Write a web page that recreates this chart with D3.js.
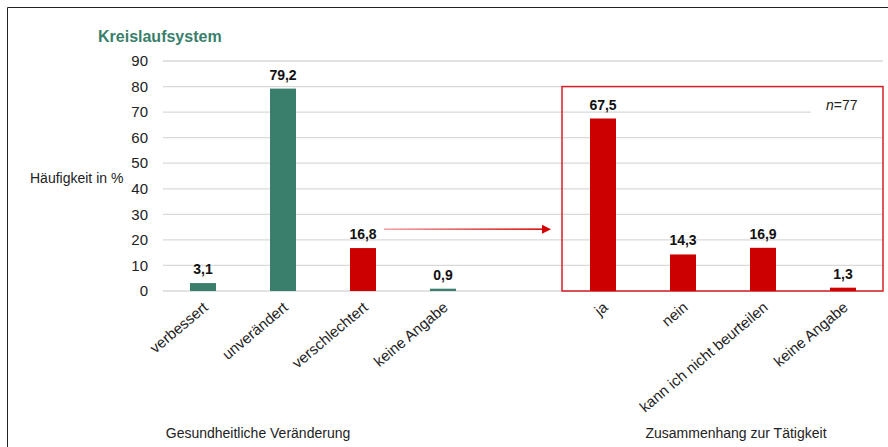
<!DOCTYPE html>
<html><head><meta charset="utf-8">
<script src="https://cdn.jsdelivr.net/npm/d3@7"></script>
<style>body{margin:0;background:#fff;} text{font-family:"Liberation Sans",Arial,sans-serif;}</style>
</head><body><svg id="c" width="888" height="447"></svg>
<script>
const title = "Kreislaufsystem";
const yTitle = "Häufigkeit in %";
const categories = ["verbessert","unverändert","verschlechtert","keine Angabe","_gap","ja","nein","kann ich nicht beurteilen","keine Angabe "];
const values = [3.1, 79.2, 16.8, 0.9, null, 67.5, 14.3, 16.9, 1.3];
const barColors = ["green","green","red","green",null,"red","red","red","red"];
const yTicks = [0,10,20,30,40,50,60,70,80,90];
const groupLabels = ["Gesundheitliche Veränderung","Zusammenhang zur Tätigkeit"];
const nLabel = "=77";

const palette = {green:"#3a7f6c", red:"#cc0000"};
const svg = d3.select("#c");
const x = d3.scaleBand().domain(categories).range([163,883]).paddingInner(0.675).paddingOuter(0.3375);
const y = d3.scaleLinear().domain([0,90]).range([291,61]);

// outer frame
svg.append("path").attr("d","M7.5,447 V7.5 H888").attr("fill","none").attr("stroke","#222").attr("stroke-width",1);

// gridlines
svg.append("g").selectAll("line").data(yTicks).join("line")
  .attr("x1",163).attr("x2",883).attr("y1",d=>y(d)).attr("y2",d=>y(d))
  .attr("stroke","#d9d9d9").attr("stroke-width",1.3);

// y tick labels
svg.append("g").selectAll("text").data(yTicks).join("text")
  .attr("x",148).attr("y",d=>y(d)).attr("dy","0.35em").attr("text-anchor","end")
  .attr("font-size",15).attr("fill","#222").text(d=>d);

// red box
const boxL = x("ja") - (x.step()-x.bandwidth())/2 - 1;
svg.append("rect").attr("x",boxL).attr("y",y(80)).attr("width",883-boxL).attr("height",y(0)-y(80))
  .attr("fill","none").attr("stroke","#d61f26").attr("stroke-width",1.5);

// n label with white background
svg.append("rect").attr("x",811).attr("y",y(70)-3).attr("width",71).attr("height",6).attr("fill","#fff");
const nt = svg.append("text").attr("x",826).attr("y",110).attr("font-size",14).attr("fill","#222");
nt.append("tspan").attr("font-style","italic").text("n");
nt.append("tspan").text(nLabel);

// bars
const data = categories.map((c,i)=>({c,v:values[i],col:barColors[i]})).filter(d=>d.v!==null);
svg.append("g").selectAll("rect").data(data).join("rect")
  .attr("x",d=>x(d.c)).attr("width",x.bandwidth())
  .attr("y",d=>y(d.v)).attr("height",d=>y(0)-y(d.v))
  .attr("fill",d=>palette[d.col]);

// value labels
svg.append("g").selectAll("text").data(data).join("text")
  .attr("x",d=>x(d.c)+x.bandwidth()/2).attr("y",d=>y(d.v)-9)
  .attr("text-anchor","middle").attr("font-size",14).attr("font-weight","bold").attr("fill","#111")
  .text(d=>d3.format(".1f")(d.v).replace(".",","));

// x labels
svg.append("g").selectAll("text").data(categories.filter(c=>c!=="_gap")).join("text")
  .attr("transform",c=>`translate(${x(c)+x.bandwidth()/2+6},${309}) rotate(-40)`)
  .attr("text-anchor","end").attr("font-size",15).attr("fill","#222").text(c=>c.trim());

// axis title
svg.append("text").attr("x",30).attr("y",183).attr("font-size",14).attr("fill","#222").text(yTitle);

// chart title
svg.append("text").attr("x",98).attr("y",42).attr("font-size",16).attr("font-weight","bold").attr("fill","#3a7f6c").text(title);

// group labels
svg.append("text").attr("x",258).attr("y",438).attr("text-anchor","middle").attr("font-size",14).attr("fill","#222").text(groupLabels[0]);
svg.append("text").attr("x",736).attr("y",438).attr("text-anchor","middle").attr("font-size",14).attr("fill","#222").text(groupLabels[1]);

// arrow
const defs = svg.append("defs");
const g = defs.append("linearGradient").attr("id","ag").attr("x1","0").attr("x2","1");
g.append("stop").attr("offset","0").attr("stop-color","#f2a0a0");
g.append("stop").attr("offset","1").attr("stop-color","#d40000");
const ax1 = x("verschlechtert")+x.bandwidth()/2+21, ax2 = boxL-11, ay = y(24.2);
svg.append("rect").attr("x",ax1).attr("y",ay-0.75).attr("width",ax2-ax1-8).attr("height",1.5).attr("fill","url(#ag)");
svg.append("path").attr("d",`M${ax2},${ay} L${ax2-9},${ay-4.5} L${ax2-9},${ay+4.5} Z`).attr("fill","#d40000");
</script></body></html>
